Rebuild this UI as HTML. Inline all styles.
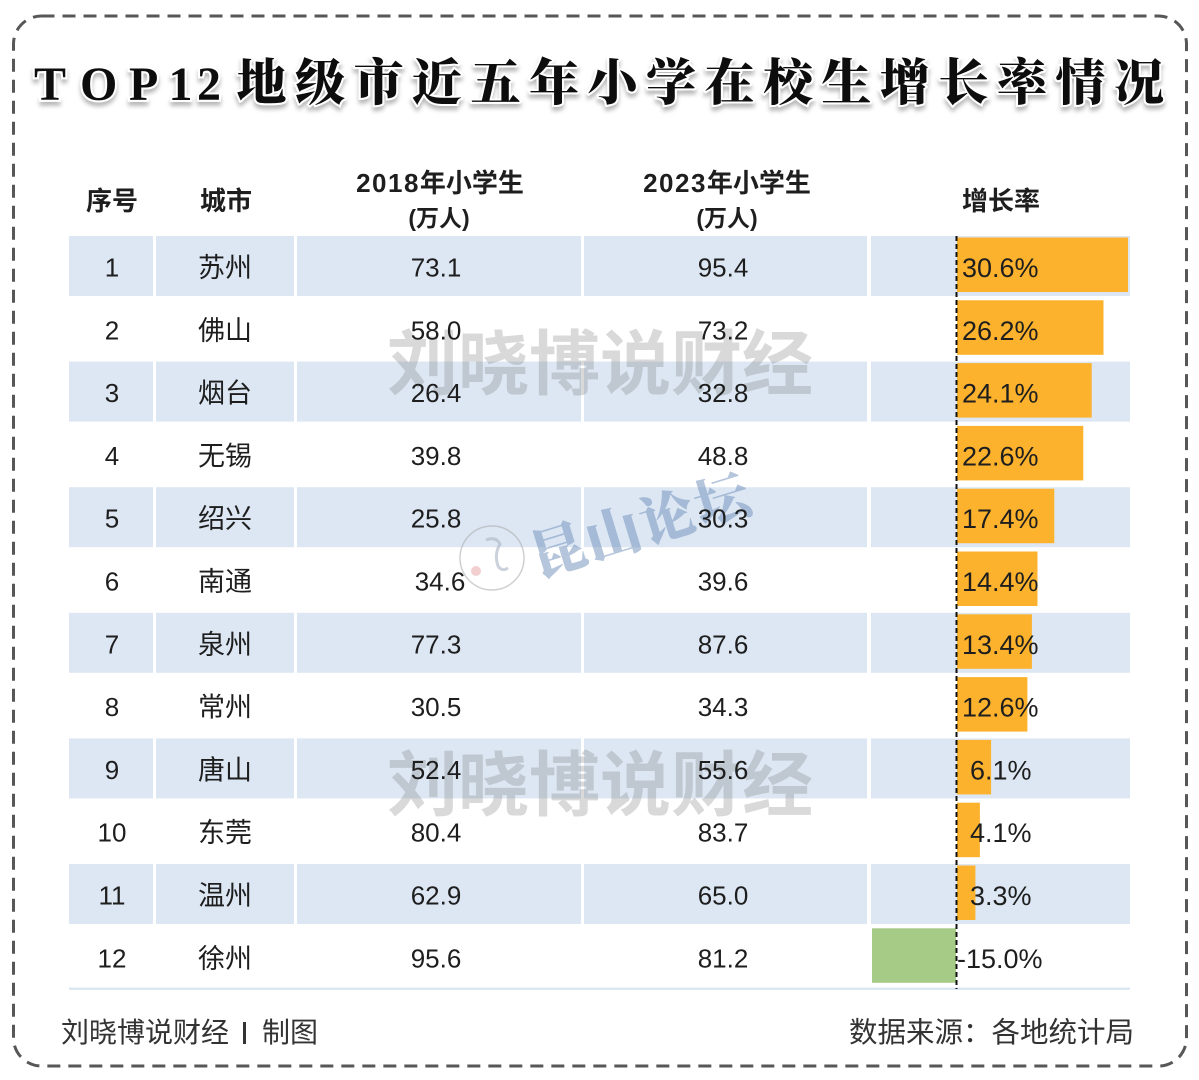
<!DOCTYPE html>
<html>
<head>
<meta charset="utf-8">
<style>
  html,body{margin:0;padding:0;background:#fff;}
  body{width:1199px;height:1080px;overflow:hidden;}
  svg{display:block;}
  .t{font-family:"Liberation Sans","Noto Sans CJK SC",sans-serif;fill:#1e1e1e;}
</style>
</head>
<body>
<svg width="1199" height="1080" viewBox="0 0 1199 1080" xmlns="http://www.w3.org/2000/svg">
  <defs>
    <filter id="ts" x="-10%" y="-30%" width="120%" height="170%">
      <feDropShadow dx="0" dy="4" stdDeviation="2" flood-color="#000" flood-opacity="0.28"/>
    </filter>
  </defs>
  <rect x="0" y="0" width="1199" height="1080" fill="#fff"/>
  <!-- dashed border -->
  <rect x="13.5" y="16" width="1173" height="1050" rx="28" ry="28" fill="none" stroke="#575757" stroke-width="3" stroke-dasharray="13 8"/>

  <!-- title -->
  <g filter="url(#ts)">
    <text x="34 80 129 168.5 197" y="100" font-family="'Liberation Serif',serif" font-weight="bold" font-size="48" fill="#111" stroke="#fff" stroke-width="4" paint-order="stroke">TOP12</text>
    <text x="236.5 295 353.5 412 470.5 529 587.5 646 704.5 763 821.5 880 938.5 997 1055.5 1114" y="100" font-family="'Noto Serif CJK SC','Liberation Serif',serif" font-weight="900" font-size="50" fill="#111" stroke="#fff" stroke-width="4" paint-order="stroke">地级市近五年小学在校生增长率情况</text>
  </g>

  <!-- header -->
  <g class="t" font-weight="bold" font-size="26" text-anchor="middle">
    <text x="112" y="210">序号</text>
    <text x="226" y="210">城市</text>
    <text x="440" y="192"><tspan letter-spacing="1.5">2018</tspan>年小学生</text>
    <text x="439" y="226" font-size="23">(万人)</text>
    <text x="727" y="192"><tspan letter-spacing="1.5">2023</tspan>年小学生</text>
    <text x="727" y="226" font-size="23">(万人)</text>
    <text x="1001" y="210">增长率</text>
  </g>

  <!-- row backgrounds (odd rows) -->
  <g fill="#DCE7F3">
    <rect x="69" y="236" width="84" height="60"/><rect x="156" y="236" width="138" height="60"/><rect x="297" y="236" width="284" height="60"/><rect x="584" y="236" width="283" height="60"/><rect x="871" y="236" width="259" height="60"/>
    <rect x="69" y="361.6" width="84" height="60"/><rect x="156" y="361.6" width="138" height="60"/><rect x="297" y="361.6" width="284" height="60"/><rect x="584" y="361.6" width="283" height="60"/><rect x="871" y="361.6" width="259" height="60"/>
    <rect x="69" y="487.2" width="84" height="60"/><rect x="156" y="487.2" width="138" height="60"/><rect x="297" y="487.2" width="284" height="60"/><rect x="584" y="487.2" width="283" height="60"/><rect x="871" y="487.2" width="259" height="60"/>
    <rect x="69" y="612.8" width="84" height="60"/><rect x="156" y="612.8" width="138" height="60"/><rect x="297" y="612.8" width="284" height="60"/><rect x="584" y="612.8" width="283" height="60"/><rect x="871" y="612.8" width="259" height="60"/>
    <rect x="69" y="738.4" width="84" height="60"/><rect x="156" y="738.4" width="138" height="60"/><rect x="297" y="738.4" width="284" height="60"/><rect x="584" y="738.4" width="283" height="60"/><rect x="871" y="738.4" width="259" height="60"/>
    <rect x="69" y="864" width="84" height="60"/><rect x="156" y="864" width="138" height="60"/><rect x="297" y="864" width="284" height="60"/><rect x="584" y="864" width="283" height="60"/><rect x="871" y="864" width="259" height="60"/>
    <rect x="69" y="987.5" width="1061" height="2.5"/>
  </g>

  <!-- bars -->
  <g fill="#FCB22D">
    <rect x="957" y="237.5" width="171" height="54.5"/>
    <rect x="957" y="300.3" width="146.5" height="54.5"/>
    <rect x="957" y="363.1" width="134.7" height="54.5"/>
    <rect x="957" y="425.9" width="126.3" height="54.5"/>
    <rect x="957" y="488.7" width="97.3" height="54.5"/>
    <rect x="957" y="551.5" width="80.5" height="54.5"/>
    <rect x="957" y="614.3" width="74.9" height="54.5"/>
    <rect x="957" y="677.1" width="70.4" height="54.5"/>
    <rect x="957" y="739.9" width="34.1" height="54.5"/>
    <rect x="957" y="802.7" width="22.9" height="54.5"/>
    <rect x="957" y="865.5" width="18.4" height="54.5"/>
  </g>
  <rect x="872" y="928.3" width="84" height="54.5" fill="#A6CB86"/>

  <!-- dashed zero line -->
  <line x1="956.5" y1="236" x2="956.5" y2="989" stroke="#111" stroke-width="2" stroke-dasharray="5 3"/>

  <!-- watermarks -->
  <g font-family="'Noto Sans CJK SC',sans-serif" font-weight="bold" font-size="71" fill="rgba(110,110,110,0.26)" text-anchor="middle">
    <text x="600" y="389">刘晓博说财经</text>
    <text x="600" y="810">刘晓博说财经</text>
  </g>
  <g transform="rotate(-17 641 525)">
    <text x="641" y="545" font-family="'Noto Serif CJK SC',serif" font-weight="900" font-size="55" fill="rgba(120,150,190,0.55)" text-anchor="middle" letter-spacing="2">昆山论坛</text>
  </g>
  <circle cx="492" cy="558" r="32" fill="none" stroke="rgba(170,170,170,0.55)" stroke-width="1.5"/>
  <path d="M486 540 q10 -4 14 4 q-6 10 -2 22 q4 6 10 2" fill="none" stroke="rgba(170,180,195,0.6)" stroke-width="3"/>
  <circle cx="476" cy="571" r="5" fill="rgba(220,120,120,0.35)"/>

  <!-- body text -->
  <g class="t" font-size="26">
    <g text-anchor="middle">
      <text x="112" y="276.5">1</text>
      <text x="112" y="339.3">2</text>
      <text x="112" y="402.1">3</text>
      <text x="112" y="464.9">4</text>
      <text x="112" y="527.7">5</text>
      <text x="112" y="590.5">6</text>
      <text x="112" y="653.3">7</text>
      <text x="112" y="716.1">8</text>
      <text x="112" y="778.9">9</text>
      <text x="112" y="841.7">10</text>
      <text x="112" y="904.5">11</text>
      <text x="112" y="967.3">12</text>
    </g>
    <g text-anchor="middle" font-size="27">
      <text x="225" y="277">苏州</text>
      <text x="225" y="339.8">佛山</text>
      <text x="225" y="402.6">烟台</text>
      <text x="225" y="465.4">无锡</text>
      <text x="225" y="528.2">绍兴</text>
      <text x="225" y="591">南通</text>
      <text x="225" y="653.8">泉州</text>
      <text x="225" y="716.6">常州</text>
      <text x="225" y="779.4">唐山</text>
      <text x="225" y="842.2">东莞</text>
      <text x="225" y="905">温州</text>
      <text x="225" y="967.8">徐州</text>
    </g>
    <g text-anchor="middle">
      <text x="436" y="276.5">73.1</text>
      <text x="436" y="339.3">58.0</text>
      <text x="436" y="402.1">26.4</text>
      <text x="436" y="464.9">39.8</text>
      <text x="436" y="527.7">25.8</text>
      <text x="440" y="590.5">34.6</text>
      <text x="436" y="653.3">77.3</text>
      <text x="436" y="716.1">30.5</text>
      <text x="436" y="778.9">52.4</text>
      <text x="436" y="841.7">80.4</text>
      <text x="436" y="904.5">62.9</text>
      <text x="436" y="967.3">95.6</text>
    </g>
    <g text-anchor="middle">
      <text x="723" y="276.5">95.4</text>
      <text x="723" y="339.3">73.2</text>
      <text x="723" y="402.1">32.8</text>
      <text x="723" y="464.9">48.8</text>
      <text x="723" y="527.7">30.3</text>
      <text x="723" y="590.5">39.6</text>
      <text x="723" y="653.3">87.6</text>
      <text x="723" y="716.1">34.3</text>
      <text x="723" y="778.9">55.6</text>
      <text x="723" y="841.7">83.7</text>
      <text x="723" y="904.5">65.0</text>
      <text x="723" y="967.3">81.2</text>
    </g>
    <g font-size="27">
      <text x="962" y="277">30.6%</text>
      <text x="962" y="339.8">26.2%</text>
      <text x="962" y="402.6">24.1%</text>
      <text x="962" y="465.4">22.6%</text>
      <text x="962" y="528.2">17.4%</text>
      <text x="962" y="591">14.4%</text>
      <text x="962" y="653.8">13.4%</text>
      <text x="962" y="716.6">12.6%</text>
      <text x="970" y="779.4">6.1%</text>
      <text x="970" y="842.2">4.1%</text>
      <text x="970" y="905">3.3%</text>
      <text x="957" y="967.8">-15.0%</text>
    </g>
  </g>

  <!-- footer -->
  <g class="t" font-size="28" fill="#333">
    <text x="61" y="1042" style="fill:#333">刘晓博说财经</text>
    <rect x="243" y="1022" width="3" height="22" fill="#333"/>
    <text x="262" y="1042" style="fill:#333">制图</text>
    <text x="1134" y="1042" text-anchor="end" font-size="28.5" style="fill:#333">数据来源：各地统计局</text>
  </g>
</svg>
</body>
</html>
